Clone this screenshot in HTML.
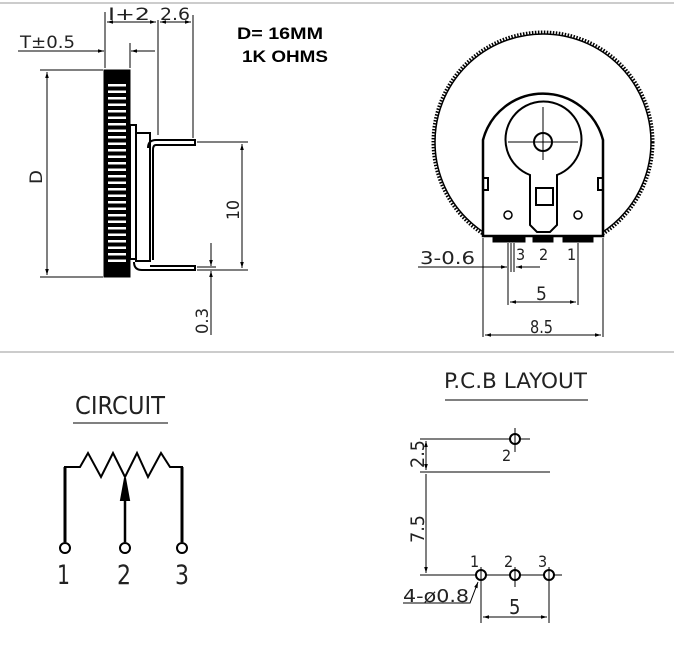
<!DOCTYPE html>
<html><head><style>
html,body{margin:0;padding:0;background:#fff;}
svg{display:block;}
text{font-family:"Liberation Sans",sans-serif;}
.t{font-family:"Liberation Sans Narrow","DejaVu Sans Condensed","Liberation Sans",sans-serif;font-weight:normal;fill:#222;}
</style></head><body>
<svg width="674" height="645" viewBox="0 0 674 645" xmlns="http://www.w3.org/2000/svg">
<defs>
<marker id="a" viewBox="0 0 10 10" refX="10" refY="5" markerWidth="8" markerHeight="6" orient="auto-start-reverse"><path d="M0,2 L10,5 L0,8 z" fill="#000"/></marker>
<clipPath id="cc"><rect x="0" y="0" width="674" height="236"/></clipPath>
</defs>
<line x1="0" y1="3" x2="674" y2="3" stroke="#ccc" stroke-width="2"/>
<line x1="0" y1="352" x2="674" y2="352" stroke="#ccc" stroke-width="2"/>
<g stroke="#000" fill="none" stroke-width="1">
<rect x="104" y="70" width="26" height="207" fill="#000"/>
<path d="M117 84 V262" stroke="#fff" stroke-width="18" stroke-dasharray="2.5 4"/>
<rect x="130" y="125" width="6" height="134" stroke-width="2"/>
<rect x="136" y="133" width="14" height="128" stroke-width="2"/>
<path d="M148 148 Q148 140 156 140 H195 V145 H156 Q153 145 153 150 V260" stroke-width="2"/>
<path d="M134 262 Q134 270 142 270 H195 V266 H150" stroke-width="2"/>
<line x1="40" y1="70" x2="103" y2="70"/>
<line x1="40" y1="277" x2="103" y2="277"/>
<line x1="47" y1="72" x2="47" y2="275" marker-start="url(#a)" marker-end="url(#a)"/>
<line x1="105" y1="12" x2="105" y2="68"/>
<line x1="158" y1="20" x2="158" y2="135"/>
<line x1="193" y1="15" x2="193" y2="138"/>
<line x1="130" y1="43" x2="130" y2="68"/>
<line x1="107" y1="22" x2="156" y2="22" marker-start="url(#a)" marker-end="url(#a)"/>
<line x1="160" y1="22" x2="191" y2="22" marker-start="url(#a)" marker-end="url(#a)"/>
<line x1="18" y1="51" x2="104" y2="51" marker-end="url(#a)"/>
<line x1="155" y1="51" x2="131" y2="51" marker-end="url(#a)"/>
<line x1="197" y1="142" x2="248" y2="142"/>
<line x1="197" y1="270" x2="248" y2="270"/>
<line x1="242" y1="144" x2="242" y2="268" marker-start="url(#a)" marker-end="url(#a)"/>
<line x1="197" y1="267" x2="216" y2="267"/>
<line x1="211" y1="243" x2="211" y2="266" marker-end="url(#a)"/>
<line x1="211" y1="335" x2="211" y2="271" marker-end="url(#a)"/>
</g>
<text class="t" x="108" y="20" font-size="17" textLength="42" lengthAdjust="spacingAndGlyphs">I+2</text>
<text class="t" x="160" y="20" font-size="17" textLength="30" lengthAdjust="spacingAndGlyphs">2.6</text>
<text class="t" x="20" y="48" font-size="17" textLength="55" lengthAdjust="spacingAndGlyphs">T±0.5</text>
<text class="t" font-size="17" transform="translate(42,184) rotate(-90)" textLength="14" lengthAdjust="spacingAndGlyphs">D</text>
<text class="t" font-size="17" transform="translate(239,220) rotate(-90)" textLength="20" lengthAdjust="spacingAndGlyphs">10</text>
<text class="t" font-size="17" transform="translate(208,334) rotate(-90)" textLength="26" lengthAdjust="spacingAndGlyphs">0.3</text>
<text x="237" y="39" font-size="17" font-weight="bold" textLength="86" lengthAdjust="spacingAndGlyphs">D= 16MM</text>
<text x="242" y="62" font-size="17" font-weight="bold" textLength="86" lengthAdjust="spacingAndGlyphs">1K OHMS</text>

<g stroke="#000" fill="none">
<circle cx="543" cy="142" r="110" stroke-width="3" stroke-dasharray="1.5 1.5" clip-path="url(#cc)"/>
<circle cx="543" cy="142" r="108" stroke-width="1.5" clip-path="url(#cc)"/>
<path d="M483 236 V140 A62 62 0 0 1 603 140 V236 Z" fill="#fff" stroke-width="2.5"/>
<path d="M483 178 h5 v12 h-5 M603 178 h-5 v12 h5" stroke-width="2"/>
<rect x="531" y="103" width="24" height="6" fill="#000"/>
<path d="M530 175 A38 38 0 1 1 557 175 V225 L550 232 H537 L530 225 Z" stroke-width="2" fill="#fff"/>
<circle cx="543" cy="142" r="9" stroke-width="2"/>
<line x1="543" y1="107" x2="543" y2="160"/>
<line x1="508" y1="142" x2="578" y2="142"/>
<rect x="536" y="188" width="17" height="17" stroke-width="2"/>
<circle cx="508" cy="215" r="4" stroke-width="1.5"/>
<circle cx="578" cy="215" r="4" stroke-width="1.5"/>
<rect x="493" y="236" width="32" height="6" fill="#000"/>
<rect x="533" y="236" width="20" height="6" fill="#000"/>
<rect x="563" y="236" width="30" height="6" fill="#000"/>
<line x1="483" y1="238" x2="483" y2="337"/>
<line x1="603" y1="238" x2="603" y2="337"/>
<line x1="508" y1="243" x2="508" y2="305"/>
<line x1="578" y1="243" x2="578" y2="305"/>
<line x1="511" y1="243" x2="511" y2="272"/>
<line x1="514" y1="243" x2="514" y2="272"/>
<line x1="418" y1="267" x2="507" y2="267" marker-end="url(#a)"/>
<line x1="540" y1="267" x2="516" y2="267" marker-end="url(#a)"/>
<line x1="510" y1="302" x2="576" y2="302" marker-start="url(#a)" marker-end="url(#a)"/>
<line x1="485" y1="335" x2="601" y2="335" marker-start="url(#a)" marker-end="url(#a)"/>
</g>
<text class="t" x="420" y="264" font-size="18" textLength="55" lengthAdjust="spacingAndGlyphs">3-0.6</text>
<text class="t" x="516" y="260" font-size="16">3</text>
<text class="t" x="539" y="260" font-size="16">2</text>
<text class="t" x="567" y="260" font-size="16">1</text>
<text class="t" x="536" y="300" font-size="19">5</text>
<text class="t" x="530" y="333" font-size="18" textLength="23" lengthAdjust="spacingAndGlyphs">8.5</text>

<text class="t" x="75" y="414" font-size="25" textLength="90" lengthAdjust="spacingAndGlyphs">CIRCUIT</text>
<line x1="73" y1="423" x2="168" y2="423" stroke="#000"/>
<g stroke="#000" fill="none" stroke-width="2">
<path d="M65 542 V467 H80 L88 453 L101 477 L113 453 L125 477 L137 453 L148 477 L161 453 L170 467 H182 V542"/>
<path d="M65 542 V467 M182 542 V467" stroke-width="3"/>
<line x1="125" y1="542" x2="125" y2="490" stroke-width="2.5"/>
<path d="M121 500 L125 478 L129 500 Z" fill="#000"/>
<circle cx="65" cy="548" r="5" fill="#fff"/>
<circle cx="125" cy="548" r="5" fill="#fff"/>
<circle cx="182" cy="548" r="5" fill="#fff"/>
</g>
<text class="t" x="57" y="584" font-size="27" textLength="13" lengthAdjust="spacingAndGlyphs">1</text>
<text class="t" x="117" y="584" font-size="27" textLength="14" lengthAdjust="spacingAndGlyphs">2</text>
<text class="t" x="175" y="584" font-size="27" textLength="14" lengthAdjust="spacingAndGlyphs">3</text>

<text class="t" x="444" y="388" font-size="21" textLength="143" lengthAdjust="spacingAndGlyphs">P.C.B LAYOUT</text>
<line x1="445" y1="400" x2="588" y2="400" stroke="#000"/>
<g stroke="#000" fill="none" stroke-width="1">
<line x1="420" y1="439" x2="505" y2="439"/>
<line x1="501" y1="439" x2="530" y2="439"/>
<line x1="515" y1="428" x2="515" y2="452"/>
<line x1="420" y1="472" x2="550" y2="472"/>
<line x1="426" y1="441" x2="426" y2="470" marker-start="url(#a)" marker-end="url(#a)"/>
<line x1="426" y1="474" x2="426" y2="573" marker-end="url(#a)"/>
<line x1="420" y1="575" x2="562" y2="575"/>
<line x1="481" y1="567" x2="481" y2="623"/>
<line x1="515" y1="567" x2="515" y2="587"/>
<line x1="549" y1="567" x2="549" y2="623"/>
<line x1="483" y1="617" x2="547" y2="617" marker-start="url(#a)" marker-end="url(#a)"/>
<path d="M403 603 H470 L478 582" marker-end="url(#a)"/>
<g stroke-width="2"><circle cx="515" cy="439" r="5" fill="#fff"/>
<circle cx="481" cy="575" r="5" fill="#fff"/>
<circle cx="515" cy="575" r="5" fill="#fff"/>
<circle cx="549" cy="575" r="5" fill="#fff"/></g>
<line x1="515" y1="433" x2="515" y2="445"/>
<line x1="481" y1="569" x2="481" y2="581"/>
<line x1="515" y1="569" x2="515" y2="581"/>
<line x1="549" y1="569" x2="549" y2="581"/>
</g>
<text class="t" x="502" y="461" font-size="16">2</text>
<text class="t" font-size="19" transform="translate(424,468) rotate(-90)" textLength="28" lengthAdjust="spacingAndGlyphs">2.5</text>
<text class="t" font-size="19" transform="translate(424,543) rotate(-90)" textLength="28" lengthAdjust="spacingAndGlyphs">7.5</text>
<text class="t" x="470" y="567" font-size="16">1</text>
<text class="t" x="504" y="567" font-size="16">2</text>
<text class="t" x="538" y="567" font-size="16">3</text>
<text class="t" x="403" y="602" font-size="18" textLength="66" lengthAdjust="spacingAndGlyphs">4-ø0.8</text>
<text class="t" x="509" y="614" font-size="20">5</text>
</svg>
</body></html>
